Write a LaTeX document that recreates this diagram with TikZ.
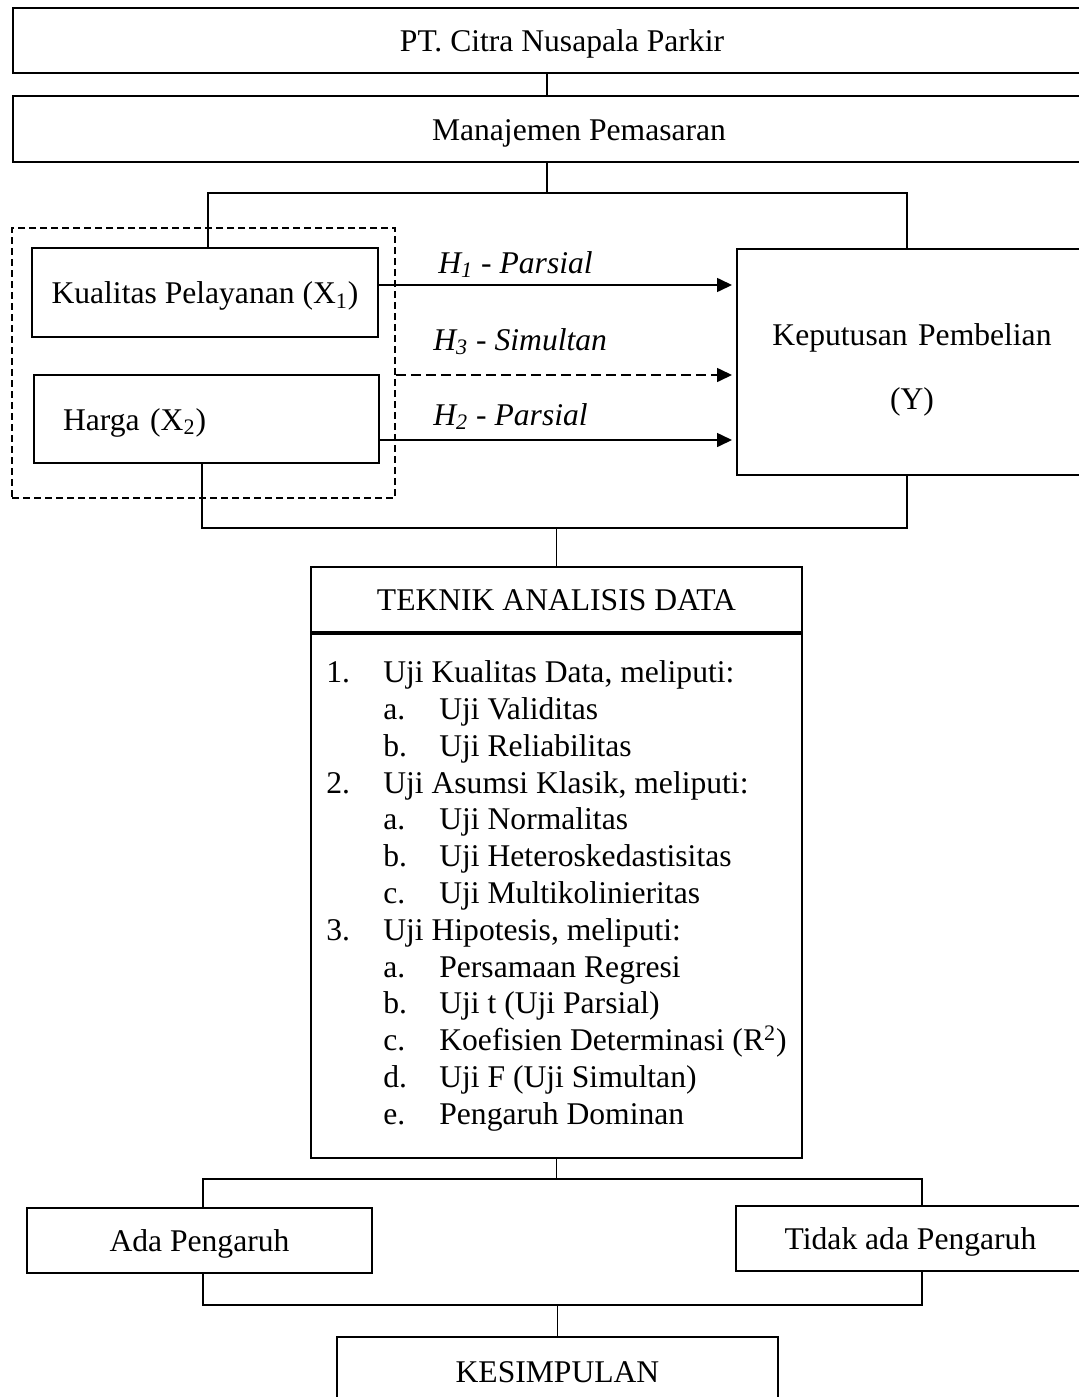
\documentclass[tikz,border=0pt]{standalone}
\usepackage{fontspec}
\setmainfont{Liberation Serif}
\usetikzlibrary{arrows.meta}
\newcommand{\basefont}{\fontsize{15.8}{18.4}\selectfont}
\newcommand{\listnum}[2]{\makebox[28.5pt][l]{#1}#2}
\newcommand{\listsub}[2]{\hspace*{28.5pt}\makebox[28pt][l]{#1}#2}
\tikzset{%
  box/.style = { draw, line width=1pt, inner sep=0pt, align=center },
  oneline/.style = { box, text height=12.5pt, text depth=1.5pt },
  link/.style = { draw, line width=0.8pt },
  arr/.style = { link, ->, shorten >=2pt },
  grpbox/.style = { draw, line width=0.8pt, dash pattern=on 3.5pt off 2pt, inner sep=0pt },
  hlabel/.style = { anchor=base west, inner sep=0pt, font=\basefont\itshape }
}
\begin{document}
\begin{tikzpicture}[x=0.5pt, y=-0.5pt, font=\basefont, >={Triangle[length=7.5pt,width=7pt]}]

  \useasboundingbox (0,0) rectangle (1079,1397);

  % Top boxes
  \node[oneline, minimum width=549pt, minimum height=32.5pt] (pt) at (562,40.5) {PT. Citra Nusapala Parkir};
  \node[oneline, minimum width=566pt, minimum height=33pt] (mp) at (579,129) {Manajemen Pemasaran};

  % Variables
  \node[grpbox, minimum width=191.5pt, minimum height=135pt] (grp) at (203.5,363) {};
  \node[oneline, minimum width=173pt, minimum height=44.5pt] (kp) at (205,292.5) {Kualitas Pelayanan (X\textsubscript{1})};
  \node[oneline, text width=143.5pt, inner xsep=14.5pt, minimum height=44pt, align=left] (hg) at (206.5,419) {Harga (X\textsubscript{2})};
  \node[box, text width=170pt, inner xsep=2.5pt, minimum height=113pt] (ky) at (912,362) {\rule{0pt}{18.8pt}Keputusan Pembelian\\[14pt](Y)};

  \coordinate (j1) at (547,193);
  \coordinate (t1) at (208,193);
  \coordinate (t2) at (907,193);
  \draw[link] (pt.south -| j1) -- (mp.north -| j1);
  \draw[link] (mp.south -| j1) -- (j1);
  \draw[link] (t1 |- kp.north) -- (t1) -- (t2) -- (t2 |- ky.north);

  % Hypotheses
  \coordinate (h1) at ([yshift=3.75pt]kp.east);
  \coordinate (h3) at ([yshift=-6pt]grp.east);
  \coordinate (h2) at ([yshift=-10.5pt]hg.east);
  \draw[arr] (h1) -- (h1 -| ky.west);
  \draw[arr, dash pattern=on 5pt off 2.5pt] (h3) -- (h3 -| ky.west);
  \draw[arr] (h2) -- (h2 -| ky.west);
  \node[hlabel] (h1lab) at (438,273) {H\textsubscript{1} - Parsial};
  \node[hlabel] (h3lab) at (433,350) {H\textsubscript{3} - Simultan};
  \node[hlabel] (h2lab) at (433,425) {H\textsubscript{2} - Parsial};

  % Analysis
  \node[oneline, minimum width=245.5pt, minimum height=32.5pt] (tk) at (556.5,599.5) {TEKNIK ANALISIS DATA};
  \node[box, align=left, minimum width=245.5pt, minimum height=262pt, anchor=north] (tl) at (tk.south) {%
    \listnum{1.}{Uji Kualitas Data, meliputi:}\\
    \listsub{a.}{Uji Validitas}\\
    \listsub{b.}{Uji Reliabilitas}\\
    \listnum{2.}{Uji Asumsi Klasik, meliputi:}\\
    \listsub{a.}{Uji Normalitas}\\
    \listsub{b.}{Uji Heteroskedastisitas}\\
    \listsub{c.}{Uji Multikolinieritas}\\
    \listnum{3.}{Uji Hipotesis, meliputi:}\\
    \listsub{a.}{Persamaan Regresi}\\
    \listsub{b.}{Uji t (Uji Parsial)}\\
    \listsub{c.}{Koefisien Determinasi (R\textsuperscript{2})}\\
    \listsub{d.}{Uji F (Uji Simultan)}\\
    \listsub{e.}{Pengaruh Dominan}};

  \coordinate (b1) at (202,528);
  \coordinate (b2) at (907,528);
  \draw[link] (b1 |- hg.south) -- (b1) -- (b2) -- (b2 |- ky.south);
  \draw[link] (tk.north |- b1) -- (tk.north);

  % Results
  \node[oneline, minimum width=172.5pt, minimum height=32.5pt] (ap) at (199.5,1240.5) {Ada Pengaruh};
  \node[oneline, minimum width=174.5pt, minimum height=32.5pt] (tp) at (910.5,1238.5) {Tidak ada Pengaruh};
  \node[oneline, minimum width=220.5pt, minimum height=34.5pt] (ks) at (557.5,1371.5) {KESIMPULAN};

  \coordinate (c1) at (203,1179);
  \coordinate (c2) at (922,1179);
  \draw[link] (tl.south) -- (tl.south |- c1);
  \draw[link] (c1 |- ap.north) -- (c1) -- (c2) -- (c2 |- tp.north);

  \coordinate (d1) at (203,1305);
  \coordinate (d2) at (922,1305);
  \draw[link] (d1 |- ap.south) -- (d1) -- (d2) -- (d2 |- tp.south);
  \draw[link] (ks.north |- d1) -- (ks.north);

\end{tikzpicture}
\end{document}
